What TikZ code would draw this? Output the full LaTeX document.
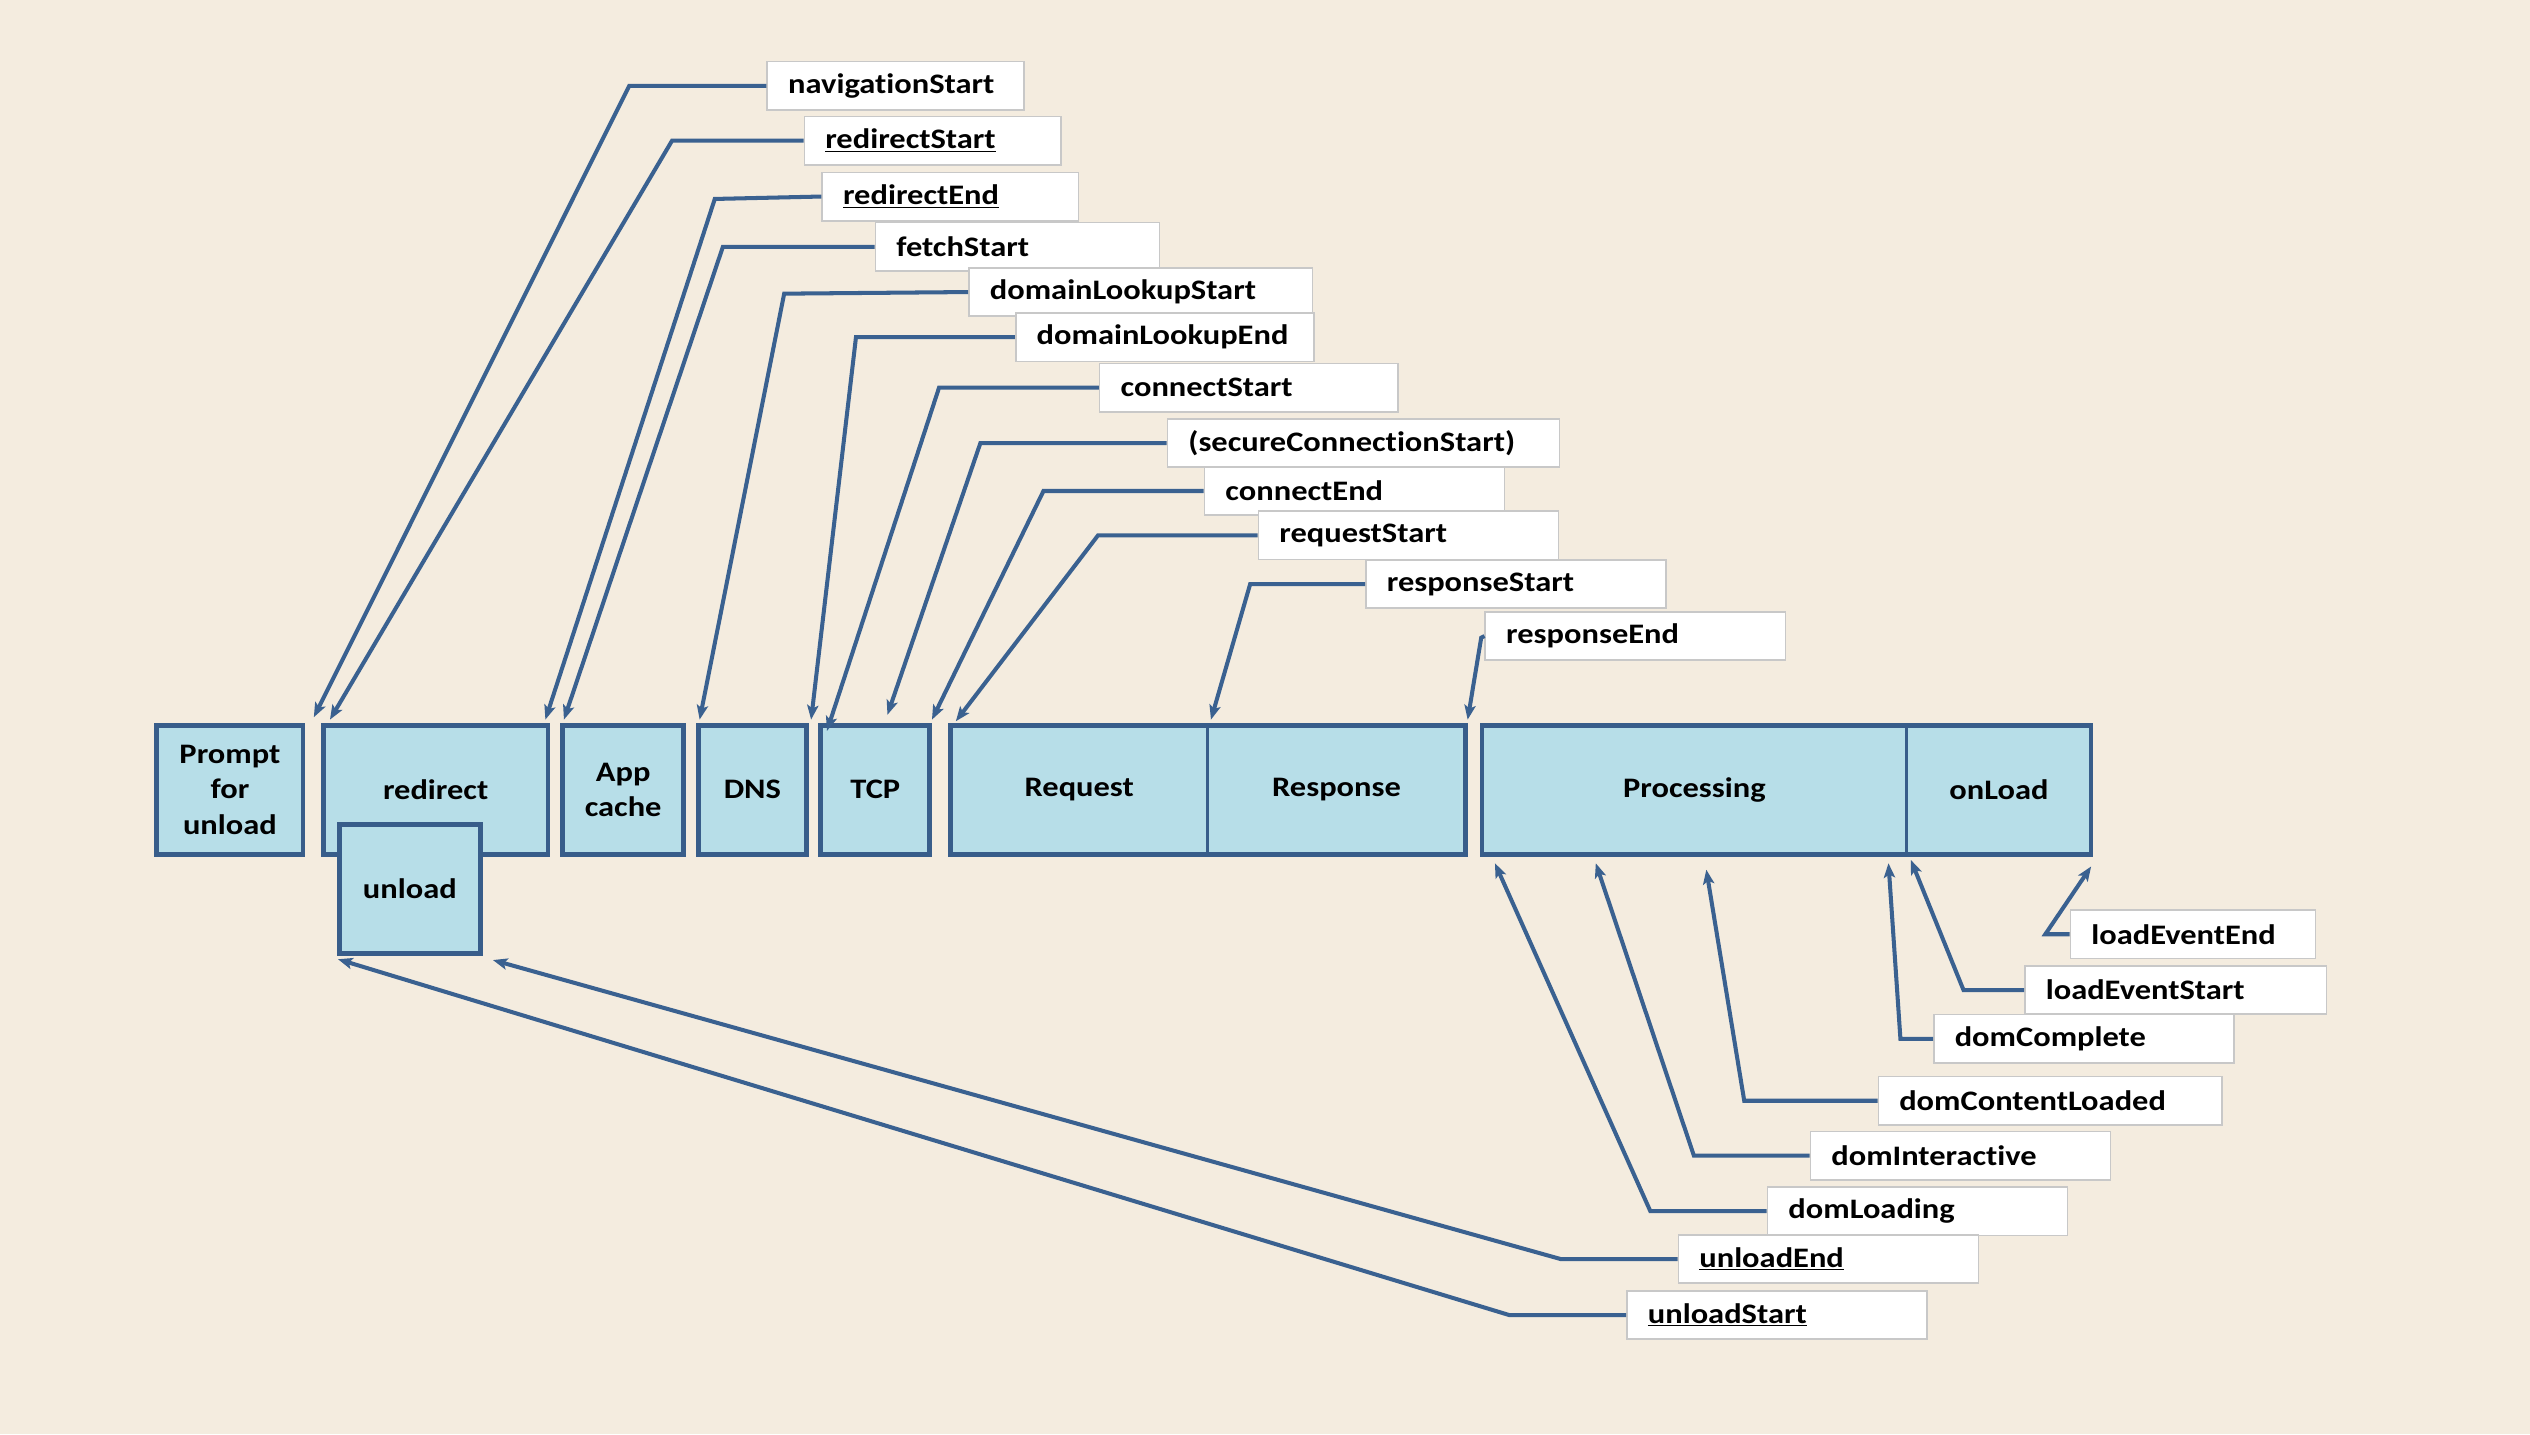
\documentclass[tikz,border=0pt]{standalone}
\usepackage{fontspec}
\setmainfont{Carlito}[FakeStretch=1.15,RawFeature={-liga}]
\usetikzlibrary{arrows.meta}
\definecolor{bg}{HTML}{F4ECDF}
\definecolor{stagefill}{HTML}{B7DEE8}
\definecolor{stageline}{HTML}{385D8A}
\definecolor{connline}{HTML}{3A6190}
\definecolor{lblline}{HTML}{C8C8C8}
\begin{document}
\begin{tikzpicture}[x=1bp,y=-1bp,
  txt/.style={font=\fontsize{17.5bp}{22bp}\selectfont\bfseries},
  stage/.style={txt, draw=stageline, fill=stagefill, line width=3bp, inner sep=0pt, outer sep=0pt, minimum height=80bp, align=center},
  lbl/.style={txt, draw=lblline, fill=white, line width=1bp, anchor=west, minimum height=30bp, inner xsep=13bp, inner ysep=0pt, align=left, text width=#1},
  conn/.style={draw=connline, line width=2.5bp, -{Stealth[length=9bp,width=7bp,inset=2bp]}}
]
\fill[bg] (0,0) rectangle (1568,889);
\useasboundingbox (0,0) rectangle (1568,889);

% stages
\node[stage, minimum width=90.5bp] (prompt) at (142.5,489.5) {Prompt\\for\\unload};
\node[stage, minimum width=139.3bp] (redirect) at (270,489.5) {redirect};
\node[stage, minimum width=87.4bp, minimum height=80.2bp] (unload) at (254,551) {unload};
\node[stage, minimum width=75bp] (appcache) at (386.2,489.5) {App\\cache};
\node[stage, minimum width=67bp] (dns) at (466.3,489.5) {DNS};
\node[stage, minimum width=67.5bp] (tcp) at (542.5,489.5) {TCP};
\node[stage, line width=2bp, minimum width=159.3bp] (request) at (668.85,489.5) {Request};
\node[stage, line width=2bp, minimum width=159.6bp] (response) at (828.3,489.5) {Response};
\draw[stageline, line width=3bp] (request.north west) rectangle (response.south east);
\node[stage, line width=2bp, minimum width=263.3bp] (processing) at (1050.15,489.5) {Processing};
\node[stage, line width=2bp, minimum width=114.1bp] (onload) at (1238.85,489.5) {onLoad};
\draw[stageline, line width=3bp] (processing.north west) rectangle (onload.south east);

% labels (top)
\node[lbl=133bp] (navigationStart) at (475,53.2) {navigationStart};
\node[lbl=133bp] (redirectStart) at (498,87.2) {\underline{redirectStart}};
\node[lbl=133bp] (redirectEnd) at (509,121.8) {\underline{redirectEnd}};
\node[lbl=150bp] (fetchStart) at (542,153) {fetchStart};
\node[lbl=187bp] (domainLookupStart) at (600,181) {domainLookupStart};
\node[lbl=159bp] (domainLookupEnd) at (629,209) {domainLookupEnd};
\node[lbl=159bp] (connectStart) at (681,240.2) {connectStart};
\node[lbl=217bp] (secureConnectionStart) at (723,274.6) {(secureConnectionStart)};
\node[lbl=160bp] (connectEnd) at (746,304.3) {connectEnd};
\node[lbl=160bp] (requestStart) at (779.4,331.8) {requestStart};
\node[lbl=160bp] (responseStart) at (846,362) {responseStart};
\node[lbl=160bp] (responseEnd) at (920,394.2) {responseEnd};
% labels (bottom)
\node[lbl=126bp] (loadEventEnd) at (1282.6,579) {loadEventEnd};
\node[lbl=161bp] (loadEventStart) at (1254.4,613.6) {loadEventStart};
\node[lbl=160bp] (domComplete) at (1198,643.8) {domComplete};
\node[lbl=187bp] (domContentLoaded) at (1163.6,682.2) {domContentLoaded};
\node[lbl=160bp] (domInteractive) at (1121.5,716.2) {domInteractive};
\node[lbl=160bp] (domLoading) at (1094.9,750.6) {domLoading};
\node[lbl=160bp] (unloadEnd) at (1039.7,780.3) {\underline{unloadEnd}};
\node[lbl=160bp] (unloadStart) at (1007.8,815) {\underline{unloadStart}};

% arrow tips
\coordinate (tNav) at (194.5,444.5);
\coordinate (tRS) at (204.5,446);
\coordinate (tRE) at (338,446);
\coordinate (tFS) at (349.5,446);
\coordinate (tDLS) at (433.6,446);
\coordinate (tDLE) at (502.7,446);
\coordinate (tCS) at (512.5,453);
\coordinate (tSCS) at (550,443);
\coordinate (tCE) at (577.6,446);
\coordinate (tReqS) at (592.4,447);
\coordinate (tResS) at (750.5,446);
\coordinate (tResE) at (909.6,446);
\coordinate (tLEE) at (1296,537);
\coordinate (tLES) at (1184.3,533);
\coordinate (tDC) at (1170.4,535);
\coordinate (tDCL) at (1057.5,539);
\coordinate (tDI) at (989,535);
\coordinate (tDL) at (926.5,535);
\coordinate (tUE) at (305.5,595);
\coordinate (tUS) at (209.5,594.5);

% connectors
\draw[conn] (navigationStart.west) -- ++(-85,0) -- (tNav);
\draw[conn] (redirectStart.west) -- ++(-81.5,0) -- (tRS);
\draw[conn] (redirectEnd.west) -- ++(-66,1.5) -- (tRE);
\draw[conn] (fetchStart.west) -- ++(-94,0) -- (tFS);
\draw[conn] (domainLookupStart.west) -- ++(-114,1) -- (tDLS);
\draw[conn] (domainLookupEnd.west) -- ++(-98.5,0) -- (tDLE);
\draw[conn] (connectStart.west) -- ++(-99,0) -- (tCS);
\draw[conn] (secureConnectionStart.west) -- ++(-115.4,0) -- (tSCS);
\draw[conn] (connectEnd.west) -- ++(-99.3,0) -- (tCE);
\draw[conn] (requestStart.west) -- ++(-98.9,0) -- (tReqS);
\draw[conn] (responseStart.west) -- ++(-71.2,0) -- (tResS);
\draw[conn] (responseEnd.west) -- ++(-2,1) -- (tResE);
\draw[conn] (loadEventEnd.west) -- ++(-15,0) -- (tLEE);
\draw[conn] (loadEventStart.west) -- ++(-37.5,0) -- (tLES);
\draw[conn] (domComplete.west) -- ++(-20.2,0) -- (tDC);
\draw[conn] (domContentLoaded.west) -- ++(-82.6,0) -- (tDCL);
\draw[conn] (domInteractive.west) -- ++(-71.7,0) -- (tDI);
\draw[conn] (domLoading.west) -- ++(-72.1,0) -- (tDL);
\draw[conn] (unloadEnd.west) -- ++(-72.5,0) -- (tUE);
\draw[conn] (unloadStart.west) -- ++(-72.5,0) -- (tUS);
\end{tikzpicture}
\end{document}
